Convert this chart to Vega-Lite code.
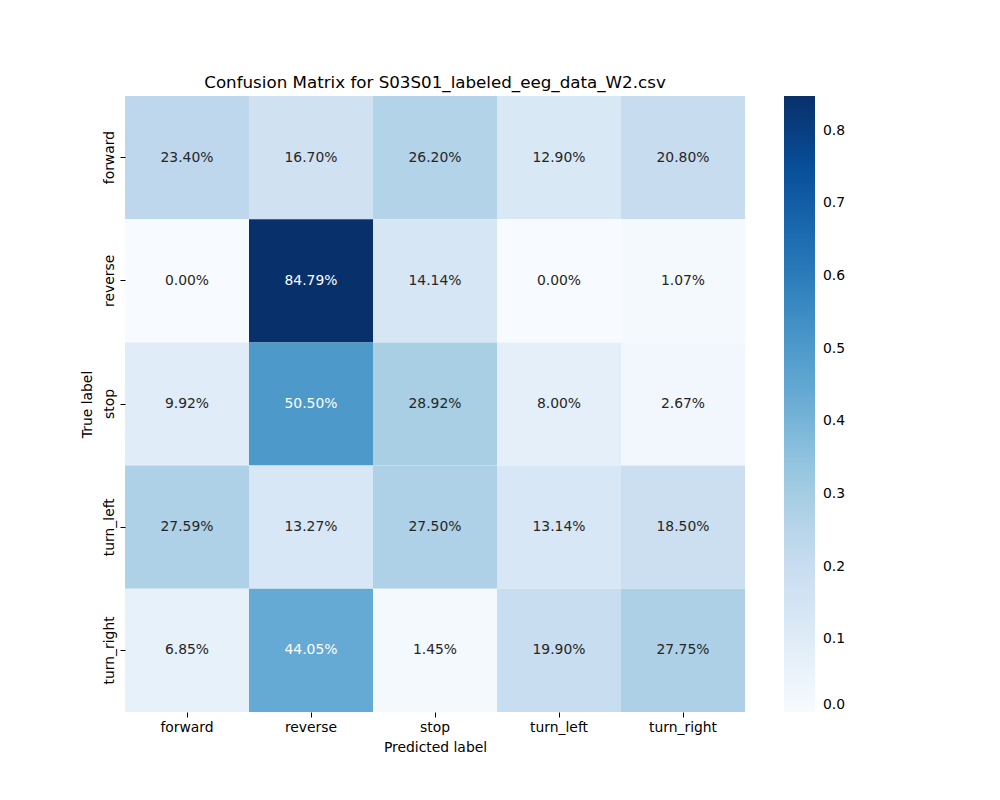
{
  "$schema": "https://vega.github.io/schema/vega-lite/v6.json",
  "width": 620,
  "height": 616,
  "autosize": {"type": "none"},
  "padding": {"left": 125, "top": 96, "right": 255, "bottom": 88},
  "background": "white",
  "config": {
    "font": "DejaVu Sans",
    "view": {"stroke": null},
    "legend": {"labelFlush": 0, "gradientLabelOffset": 8}
  },
  "title": {
    "text": "Confusion Matrix for S03S01_labeled_eeg_data_W2.csv",
    "fontSize": 16.7,
    "fontWeight": "normal",
    "font": "DejaVu Sans",
    "color": "#000000",
    "offset": 4
  },
  "data": {
    "values": [
      {"true": "forward", "pred": "forward", "v": 0.2340},
      {"true": "forward", "pred": "reverse", "v": 0.1670},
      {"true": "forward", "pred": "stop", "v": 0.2620},
      {"true": "forward", "pred": "turn_left", "v": 0.1290},
      {"true": "forward", "pred": "turn_right", "v": 0.2080},
      {"true": "reverse", "pred": "forward", "v": 0.0000},
      {"true": "reverse", "pred": "reverse", "v": 0.8479},
      {"true": "reverse", "pred": "stop", "v": 0.1414},
      {"true": "reverse", "pred": "turn_left", "v": 0.0000},
      {"true": "reverse", "pred": "turn_right", "v": 0.0107},
      {"true": "stop", "pred": "forward", "v": 0.0992},
      {"true": "stop", "pred": "reverse", "v": 0.5050},
      {"true": "stop", "pred": "stop", "v": 0.2892},
      {"true": "stop", "pred": "turn_left", "v": 0.0800},
      {"true": "stop", "pred": "turn_right", "v": 0.0267},
      {"true": "turn_left", "pred": "forward", "v": 0.2759},
      {"true": "turn_left", "pred": "reverse", "v": 0.1327},
      {"true": "turn_left", "pred": "stop", "v": 0.2750},
      {"true": "turn_left", "pred": "turn_left", "v": 0.1314},
      {"true": "turn_left", "pred": "turn_right", "v": 0.1850},
      {"true": "turn_right", "pred": "forward", "v": 0.0685},
      {"true": "turn_right", "pred": "reverse", "v": 0.4405},
      {"true": "turn_right", "pred": "stop", "v": 0.0145},
      {"true": "turn_right", "pred": "turn_left", "v": 0.1990},
      {"true": "turn_right", "pred": "turn_right", "v": 0.2775}
    ]
  },
  "encoding": {
    "x": {
      "field": "pred",
      "type": "nominal",
      "sort": ["forward", "reverse", "stop", "turn_left", "turn_right"],
      "scale": {"paddingInner": 0, "paddingOuter": 0},
      "axis": {
        "title": "Predicted label",
        "titleFontSize": 13.9,
        "titleFontWeight": "normal",
        "titleColor": "#000000",
        "titlePadding": 7,
        "labelFontSize": 13.9,
        "labelColor": "#000000",
        "labelAngle": 0,
        "labelPadding": 3,
        "tickSize": 5,
        "tickColor": "#000000",
        "domain": false,
        "grid": false
      }
    },
    "y": {
      "field": "true",
      "type": "nominal",
      "sort": ["forward", "reverse", "stop", "turn_left", "turn_right"],
      "scale": {"paddingInner": 0, "paddingOuter": 0},
      "axis": {
        "title": "True label",
        "titleFontSize": 13.9,
        "titleFontWeight": "normal",
        "titleColor": "#000000",
        "titlePadding": 8,
        "labelFontSize": 13.9,
        "labelColor": "#000000",
        "labelAngle": 270,
        "labelAlign": "center",
        "labelBaseline": "bottom",
        "labelPadding": 4,
        "tickSize": 5,
        "tickColor": "#000000",
        "domain": false,
        "grid": false
      }
    }
  },
  "layer": [
    {
      "mark": {"type": "rect"},
      "encoding": {
        "color": {
          "field": "v",
          "type": "quantitative",
          "scale": {
            "domain": [0, 0.10599, 0.21198, 0.31796, 0.42395, 0.52994, 0.63593, 0.74191, 0.8479],
            "range": ["#f7fbff", "#deebf7", "#c6dbef", "#9ecae1", "#6baed6", "#4292c6", "#2171b5", "#08519c", "#08306b"],
            "interpolate": "rgb"
          },
          "legend": {
            "type": "gradient",
            "orient": "none",
            "legendX": 659,
            "legendY": 0,
            "direction": "vertical",
            "title": null,
            "gradientLength": 616,
            "gradientThickness": 31,
            "gradientStrokeWidth": 0,
            "values": [0, 0.1, 0.2, 0.3, 0.4, 0.5, 0.6, 0.7, 0.8],
            "format": ".1f",
            "labelFontSize": 13.9,
            "labelColor": "#000000",
            "labelOffset": 8,
            "labelOverlap": false,
            "labelFlush": 0,
            "labelBaseline": "middle"
          }
        }
      }
    },
    {
      "mark": {"type": "text", "fontSize": 13.9, "font": "DejaVu Sans"},
      "encoding": {
        "text": {"field": "v", "type": "quantitative", "format": ".2%"},
        "color": {
          "condition": {"test": "datum.v > 0.4", "value": "#ffffff"},
          "value": "#262626"
        }
      }
    }
  ]
}
